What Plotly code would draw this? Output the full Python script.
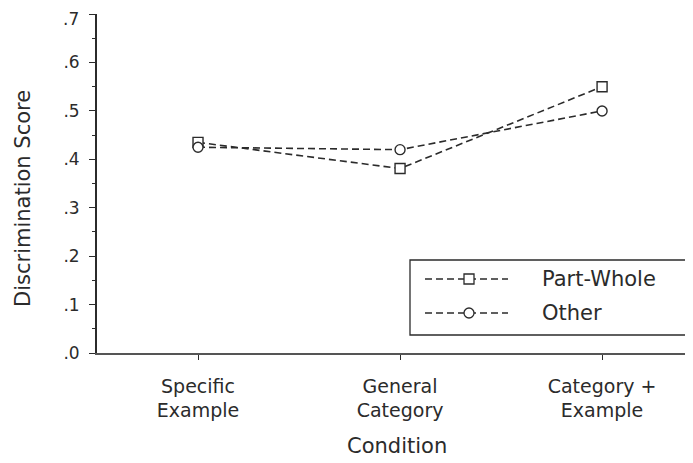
import plotly.graph_objects as go

conditions = ["Specific<br>Example", "General<br>Category", "Category +<br>Example"]
part_whole = [0.435, 0.381, 0.55]
other = [0.425, 0.42, 0.50]
y_ticks = [0, 0.1, 0.2, 0.3, 0.4, 0.5, 0.6, 0.7]
y_tick_labels = [".0", ".1", ".2", ".3", ".4", ".5", ".6", ".7"]
series_names = ["Part-Whole", "Other"]

FONT = "DejaVu Sans"
INK = "#2b2b2b"

xpos = list(range(len(conditions)))

fig = go.Figure()
fig.add_trace(go.Scatter(
    x=xpos, y=part_whole, mode="lines+markers", name=series_names[0],
    line=dict(color=INK, width=1.6, dash="7px,4px"),
    marker=dict(symbol="square", size=10, color="white", line=dict(color=INK, width=1.4)),
    showlegend=False))
fig.add_trace(go.Scatter(
    x=xpos, y=other, mode="lines+markers", name=series_names[1],
    line=dict(color=INK, width=1.6, dash="7px,4px"),
    marker=dict(symbol="circle", size=10, color="white", line=dict(color=INK, width=1.4)),
    showlegend=False))

# page offset of the figure inside the browser window
OFF = 8
W, H = 693, 463
# target geometry in window pixels
PL, PT, PB, PR = 97, 14, 353, 693
L = PL - OFF
T = PT - OFF
B = H - (PB - OFF)
R = W - (PR - OFF)
pw, ph = W - L - R, H - T - B

def px(x):
    return (x - OFF - L) / pw

def py(y):
    return (H - B - (y - OFF)) / ph

shapes = [
    dict(type="rect", xref="paper", yref="paper", x0=px(410), x1=px(691), y0=py(335), y1=py(260),
         line=dict(color=INK, width=1.3), fillcolor="white", layer="above"),
]
annotations = []
rows = [279, 313]
for i, (nm, sym) in enumerate(zip(series_names, ["rect", "circle"])):
    yy = py(rows[i])
    shapes.append(dict(type="line", xref="paper", yref="paper", x0=px(425), x1=px(508), y0=yy, y1=yy,
                       line=dict(color=INK, width=1.4, dash="7px,4px"), layer="above"))
    shapes.append(dict(type=sym, xref="paper", yref="paper", xsizemode="pixel", ysizemode="pixel",
                       xanchor=px(469), yanchor=yy, x0=-5, x1=5, y0=-5, y1=5,
                       line=dict(color=INK, width=1.3), fillcolor="white", layer="above"))
    annotations.append(dict(text=nm, xref="paper", yref="paper", x=px(540), y=yy, xanchor="left",
                            yanchor="middle", showarrow=False, font=dict(family=FONT, size=21, color=INK)))

annotations.append(dict(text="Discrimination Score", xref="paper", yref="paper", x=px(23), y=py(199),
                        xanchor="center", yanchor="middle", textangle=-90, showarrow=False,
                        font=dict(family=FONT, size=21, color=INK)))
annotations.append(dict(text="Condition", xref="paper", yref="paper", x=px(397), y=py(446),
                        xanchor="center", yanchor="middle", showarrow=False,
                        font=dict(family=FONT, size=21, color=INK)))
# top tick label, nudged down slightly (as in the original) so it stays inside the page
annotations.append(dict(text=y_tick_labels[-1], xref="paper", yref="y", x=px(80), y=y_ticks[-1],
                        yshift=-5, xanchor="right", yanchor="middle", showarrow=False, borderpad=0,
                        font=dict(family=FONT, size=17, color=INK)))

axis_tick_text = y_tick_labels[:-1] + [""]

fig.update_layout(
    width=W, height=H,
    margin=dict(l=L, r=R, t=T, b=B, pad=0, autoexpand=False),
    paper_bgcolor="white", plot_bgcolor="white",
    showlegend=False,
    shapes=shapes, annotations=annotations,
    xaxis=dict(range=[-0.5, 2.45], tickmode="array", tickvals=xpos, ticktext=conditions,
               showgrid=False, zeroline=False, showline=True, linecolor="#555", linewidth=1.5,
               ticks="outside", ticklen=5, tickcolor=INK, tickwidth=1.2, automargin=False,
               tickfont=dict(family=FONT, size=19, color=INK), ticklabelstandoff=10),
    yaxis=dict(range=[0, 0.7002], tickmode="array", tickvals=y_ticks, ticktext=axis_tick_text,
               showgrid=False, zeroline=False, showline=True, linecolor=INK, linewidth=1.8,
               ticks="outside", ticklen=6, tickcolor=INK, tickwidth=1.3, ticklabeloverflow="allow",
               automargin=False,
               minor=dict(ticks="outside", ticklen=3, dtick=0.05, tickcolor=INK, tickwidth=1, showgrid=False),
               tickfont=dict(family=FONT, size=17, color=INK), ticklabelstandoff=6),
)

fig.write_html("out.html")
